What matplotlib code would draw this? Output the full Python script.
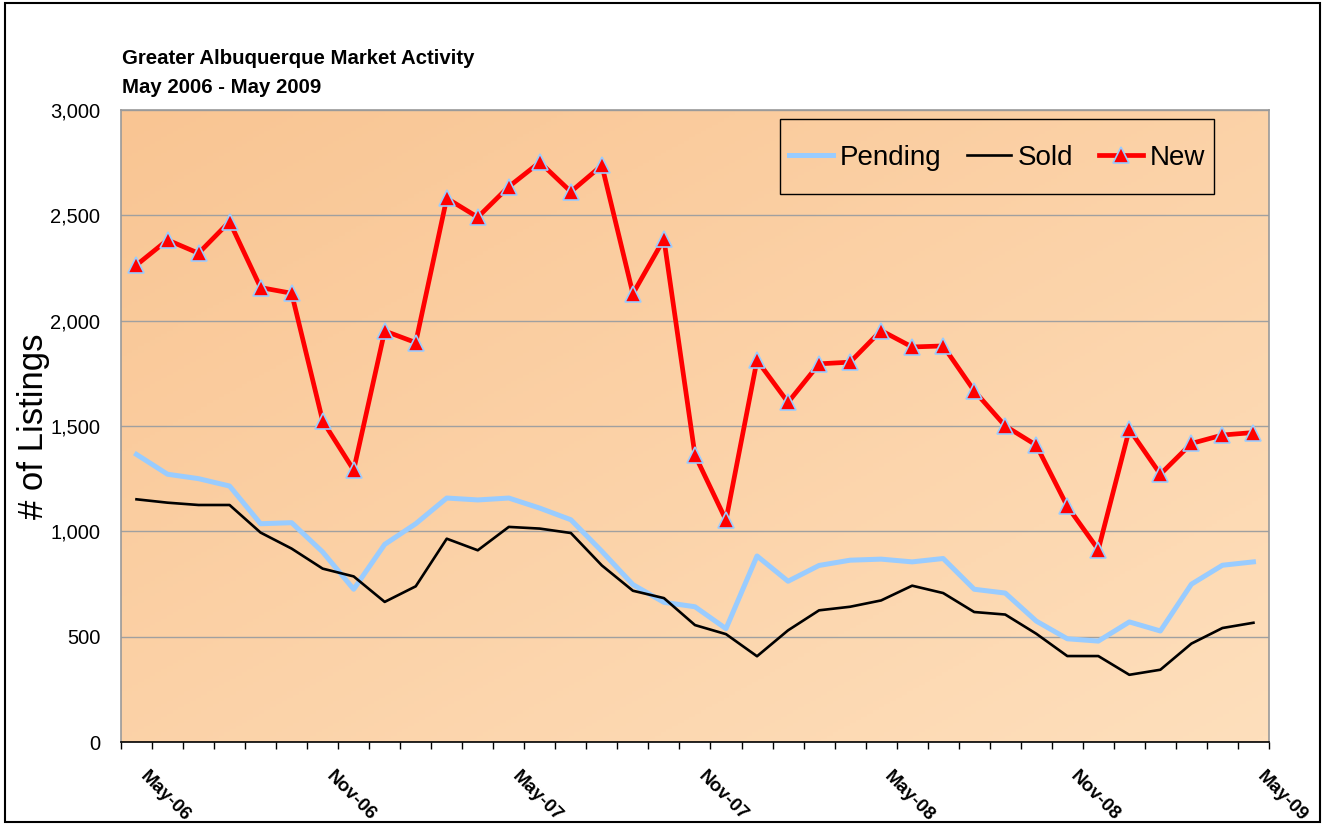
import numpy as np
import matplotlib
matplotlib.use("Agg")
import matplotlib.pyplot as plt
from matplotlib.colors import LinearSegmentedColormap
from matplotlib.patches import Rectangle
from matplotlib.ticker import FuncFormatter, FixedLocator

plt.rcParams['font.family'] = ['Liberation Sans', 'DejaVu Sans']

# monthly data, May 2006 .. May 2009 (37 months)
months = ['May-06', 'Jun-06', 'Jul-06', 'Aug-06', 'Sep-06', 'Oct-06', 'Nov-06', 'Dec-06',
          'Jan-07', 'Feb-07', 'Mar-07', 'Apr-07', 'May-07', 'Jun-07', 'Jul-07', 'Aug-07',
          'Sep-07', 'Oct-07', 'Nov-07', 'Dec-07', 'Jan-08', 'Feb-08', 'Mar-08', 'Apr-08',
          'May-08', 'Jun-08', 'Jul-08', 'Aug-08', 'Sep-08', 'Oct-08', 'Nov-08', 'Dec-08',
          'Jan-09', 'Feb-09', 'Mar-09', 'Apr-09', 'May-09']
pending = [1365, 1271, 1250, 1215, 1036, 1041, 902, 725, 938, 1036, 1158, 1149, 1158, 1110,
           1055, 905, 747, 663, 642, 538, 883, 763, 838, 863, 868, 855, 871, 725, 707, 574,
           490, 479, 570, 527, 749, 839, 855]
sold = [1152, 1136, 1125, 1125, 994, 918, 823, 786, 665, 739, 965, 910, 1021, 1013, 992,
        838, 718, 683, 555, 512, 407, 530, 625, 642, 672, 742, 707, 617, 605, 514, 408,
        408, 319, 343, 467, 541, 566]
new = [2264, 2383, 2320, 2470, 2157, 2130, 1524, 1291, 1951, 1896, 2581, 2491, 2636, 2752,
       2612, 2737, 2128, 2387, 1362, 1053, 1812, 1612, 1795, 1803, 1953, 1875, 1880, 1667,
       1500, 1409, 1119, 913, 1484, 1271, 1417, 1457, 1469]
label_every = 6

x = np.arange(len(months))

fig = plt.figure(figsize=(13.25, 8.25), dpi=100)
ax = fig.add_axes([0.0913, 0.1006, 0.8664, 0.7661])

# diagonal orange gradient background
cmap = LinearSegmentedColormap.from_list('bg', ['#F9C593', '#FEDFBC'])
gx, gy = np.meshgrid(np.linspace(0, 1, 200), np.linspace(0, 1, 200))
grad = (gx + gy) / 2
ax.imshow(grad, extent=[0, 1, 0, 1], transform=ax.transAxes, cmap=cmap,
          aspect='auto', origin='upper', zorder=0)

ax.plot(x, pending, color='#99CCFF', lw=3.6, label='Pending', zorder=3)
ax.plot(x, sold, color='black', lw=1.9, label='Sold', zorder=3)
ax.plot(x, new, color='#FF0000', lw=3.4, marker='^', markersize=11,
        markerfacecolor='#FF0000', markeredgecolor='#99CCFF', markeredgewidth=1.2,
        label='New', zorder=4)

ax.set_xlim(-0.5, len(months) - 0.5)
ax.set_ylim(0, 3000)

ax.set_yticks(np.arange(0, 3001, 500))
ax.yaxis.set_major_formatter(FuncFormatter(lambda v, p: f'{int(v):,}'))
ax.tick_params(axis='y', length=0, pad=15, labelsize=14.5)
ax.grid(axis='y', color='#A0A0A0', lw=1, zorder=1)

# tick marks between months, labels every six months
ax.xaxis.set_major_locator(FixedLocator(np.arange(-0.5, len(months), 1)))
ax.xaxis.set_major_formatter(FuncFormatter(lambda v, p: ''))
ax.xaxis.set_minor_locator(FixedLocator(x[::label_every]))
ax.set_xticklabels([months[i] for i in x[::label_every]], minor=True)
ax.tick_params(axis='x', which='major', length=5, width=1, direction='out')
ax.tick_params(axis='x', which='minor', length=0, pad=27)
for lab in ax.get_xticklabels(minor=True):
    lab.set_rotation(-45)
    lab.set_rotation_mode('anchor')
    lab.set_ha('left')
    lab.set_va('bottom')
    lab.set_fontweight('bold')
    lab.set_fontsize(13.5)

for s in ['left', 'right', 'top']:
    ax.spines[s].set_color('#999999')
    ax.spines[s].set_linewidth(1.2)
ax.spines['bottom'].set_color('black')
ax.spines['bottom'].set_linewidth(1.2)

ax.set_ylabel('# of Listings', fontsize=25, labelpad=0)

fig.text(0.092, 0.9285, 'Greater Albuquerque Market Activity', fontsize=14.7,
         fontweight='bold', va='center', ha='left')
fig.text(0.092, 0.8935, 'May 2006 - May 2009', fontsize=14.7,
         fontweight='bold', va='center', ha='left')

# legend box drawn separately (wide vertical padding, tight sides)
ax.add_patch(Rectangle((0.574, 0.867), 0.378, 0.119, transform=ax.transAxes,
                       fill=False, edgecolor='black', lw=1, zorder=5))
leg = ax.legend(loc='center', bbox_to_anchor=(0.763, 0.924), ncol=3,
                fontsize=20, frameon=False, borderaxespad=0, borderpad=0,
                handlelength=1.6, handletextpad=0.22, columnspacing=0.93)

fig.patches.append(Rectangle((0.004, 0.004), 0.992, 0.992, transform=fig.transFigure,
                             fill=False, edgecolor='black', lw=1.5))

fig.savefig('out.png', dpi=100)
